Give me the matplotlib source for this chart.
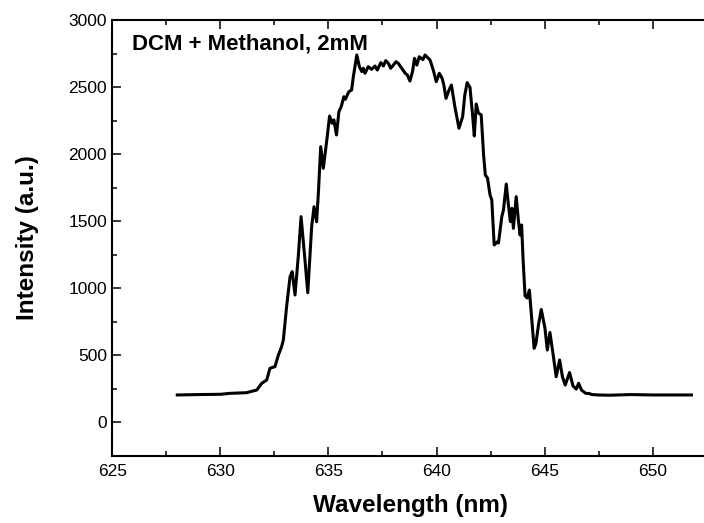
import matplotlib
matplotlib.use("Agg")
import matplotlib.pyplot as plt
from matplotlib.ticker import MultipleLocator

plt.rcParams['font.family'] = ['Liberation Sans', 'DejaVu Sans']

# emission spectrum, DCM in methanol (2 mM)
wavelength = [628.0, 629.0, 630.0, 630.44, 631.21, 631.68, 631.91, 632.14, 632.29, 632.52,
              632.68, 632.83, 632.91, 633.06, 633.22, 633.32, 633.45, 633.60, 633.73, 633.91,
              634.04, 634.22, 634.33, 634.45, 634.53, 634.64, 634.76, 634.94, 635.05, 635.17,
              635.25, 635.37, 635.48, 635.59, 635.71, 635.78, 635.94, 636.07, 636.15, 636.31,
              636.43, 636.54, 636.61, 636.69, 636.84, 637.00, 637.15, 637.26, 637.42, 637.54,
              637.65, 637.77, 637.88, 638.00, 638.13, 638.23, 638.39, 638.55, 638.65, 638.77,
              638.89, 638.98, 639.09, 639.20, 639.29, 639.37, 639.47, 639.70, 639.85, 639.99,
              640.13, 640.26, 640.34, 640.44, 640.58, 640.69, 640.85, 641.04, 641.21, 641.31,
              641.42, 641.55, 641.67, 641.75, 641.84, 641.94, 642.07, 642.18, 642.26, 642.36,
              642.48, 642.56, 642.67, 642.80, 642.87, 643.02, 643.10, 643.23, 643.33, 643.42,
              643.49, 643.56, 643.69, 643.79, 643.87, 643.94, 644.01, 644.10, 644.20, 644.30,
              644.42, 644.52, 644.60, 644.72, 644.85, 645.02, 645.13, 645.25, 645.39, 645.54,
              645.70, 645.83, 645.96, 646.16, 646.32, 646.47, 646.58, 646.71, 646.91, 647.06,
              647.2, 647.5, 648.0, 649.0, 650.0, 651.0, 651.8]
intensity = [205, 208, 210, 217, 222, 242, 292, 317, 404, 416,
             503, 565, 615, 863, 1086, 1124, 950, 1236, 1534, 1211,
             967, 1459, 1608, 1496, 1708, 2056, 1894, 2130, 2284, 2230,
             2255, 2143, 2316, 2354, 2428, 2409, 2465, 2478, 2577, 2739,
             2652, 2615, 2640, 2603, 2652, 2632, 2657, 2627, 2682, 2657,
             2697, 2677, 2640, 2664, 2689, 2677, 2640, 2603, 2590, 2545,
             2615, 2714, 2664, 2726, 2714, 2705, 2739, 2702, 2627, 2540,
             2603, 2565, 2515, 2416, 2478, 2515, 2354, 2193, 2279, 2441,
             2533, 2497, 2292, 2135, 2374, 2307, 2292, 1994, 1845, 1822,
             1695, 1658, 1323, 1345, 1338, 1531, 1584, 1777, 1621, 1497,
             1596, 1447, 1683, 1509, 1397, 1472, 1211, 943, 928, 987,
             749, 553, 585, 726, 842, 704, 540, 671, 518, 341,
             466, 341, 279, 372, 272, 249, 292, 242, 217, 216,
             208, 205, 203, 208, 205, 205, 205]

fig = plt.figure(figsize=(7.04, 5.23), dpi=100)
# right edge of the frame sits just past the figure border
ax = fig.add_axes([0.1598, 0.1281, 0.8459, 0.8337])

ax.plot(wavelength, intensity, color='black', lw=2.2, solid_joinstyle='round')

ax.set_xlim(625, 652.57)
ax.set_ylim(-250, 3000)
ax.xaxis.set_major_locator(MultipleLocator(5))
ax.xaxis.set_minor_locator(MultipleLocator(2.5))
ax.yaxis.set_major_locator(MultipleLocator(500))
ax.yaxis.set_minor_locator(MultipleLocator(250))

for s in ax.spines.values():
    s.set_linewidth(1.5)
ax.tick_params(which='both', direction='in', top=True, right=False, width=1.1,
               labelsize=12.5)
ax.tick_params(which='major', length=6.5)
ax.tick_params(which='minor', length=3.8)
ax.tick_params(axis='x', pad=5.5)
ax.tick_params(axis='y', pad=4)

ax.set_xlabel('Wavelength (nm)', fontsize=17.5, fontweight='bold', labelpad=11)
ax.set_ylabel('Intensity (a.u.)', fontsize=17.5, fontweight='bold', labelpad=21)

ax.text(0.032, 0.945, 'DCM + Methanol, 2mM', transform=ax.transAxes,
        fontsize=16, fontweight='bold', va='center', ha='left')

fig.savefig('out.png', dpi=100)
